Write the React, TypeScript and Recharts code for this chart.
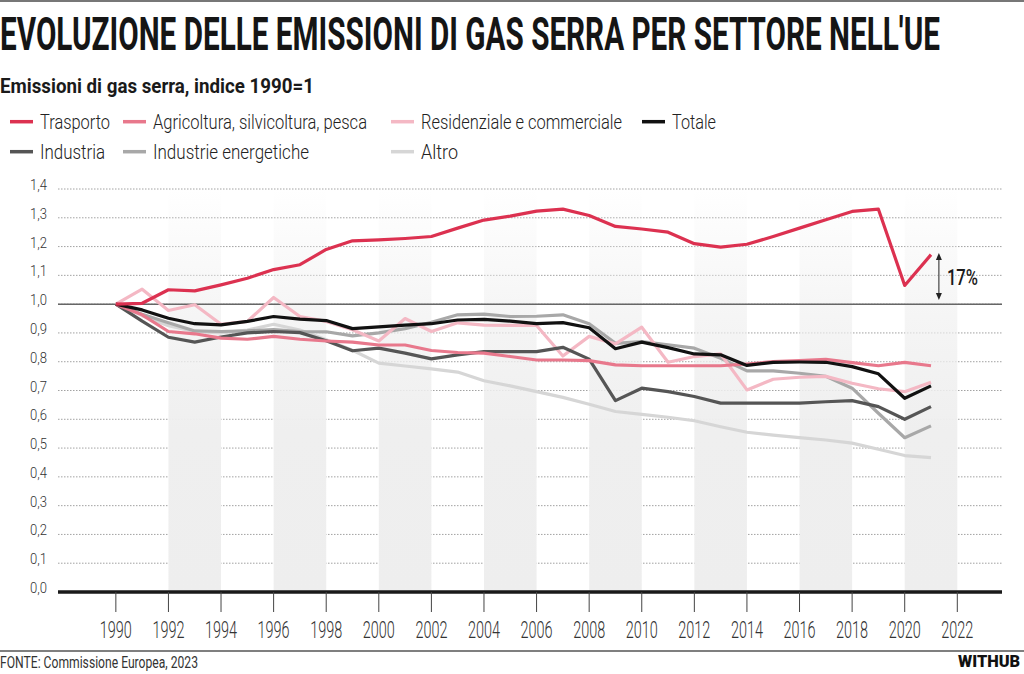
import React, { useLayoutEffect, useRef, useState } from 'react'
import {
  CartesianGrid,
  Legend,
  Line,
  LineChart,
  ReferenceArea,
  ReferenceLine,
  XAxis,
  YAxis,
} from 'recharts'

// anni e indici (1990 = 1)
const YEARS = [
  1990, 1991, 1992, 1993, 1994, 1995, 1996, 1997, 1998, 1999, 2000, 2001, 2002, 2003, 2004, 2005,
  2006, 2007, 2008, 2009, 2010, 2011, 2012, 2013, 2014, 2015, 2016, 2017, 2018, 2019, 2020, 2021,
]

const TRASPORTO = [
  1.0, 1.003, 1.05, 1.046, 1.067, 1.09, 1.12, 1.137, 1.19, 1.22, 1.223, 1.228, 1.235, 1.264, 1.292, 1.306,
  1.323, 1.33, 1.308, 1.27, 1.261, 1.25, 1.21, 1.198, 1.208, 1.235, 1.264, 1.293, 1.322, 1.33, 1.065, 1.172,
]
const AGRICOLTURA = [
  1.0, 0.963, 0.905, 0.897, 0.882, 0.878, 0.888, 0.878, 0.872, 0.868, 0.858, 0.858, 0.839, 0.832, 0.83, 0.818,
  0.806, 0.806, 0.804, 0.789, 0.786, 0.786, 0.786, 0.786, 0.792, 0.8, 0.804, 0.808, 0.797, 0.786, 0.798, 0.786,
]
const RESIDENZIALE = [
  1.0, 1.052, 0.978, 0.998, 0.93, 0.94, 1.023, 0.957, 0.94, 0.911, 0.872, 0.95, 0.905, 0.935, 0.927, 0.926,
  0.926, 0.82, 0.888, 0.862, 0.92, 0.798, 0.818, 0.827, 0.702, 0.739, 0.746, 0.749, 0.725, 0.706, 0.696, 0.729,
]
const TOTALE = [
  1.0, 0.98, 0.951, 0.932, 0.928, 0.94, 0.957, 0.948, 0.943, 0.915, 0.921, 0.927, 0.932, 0.945, 0.947, 0.941,
  0.932, 0.936, 0.918, 0.845, 0.868, 0.849, 0.827, 0.824, 0.787, 0.798, 0.799, 0.798, 0.783, 0.758, 0.673, 0.716,
]
const INDUSTRIA = [
  1.0, 0.941, 0.885, 0.868, 0.886, 0.9, 0.905, 0.901, 0.873, 0.838, 0.847, 0.83, 0.81, 0.824, 0.835, 0.835,
  0.835, 0.85, 0.809, 0.665, 0.708, 0.696, 0.679, 0.656, 0.656, 0.656, 0.656, 0.661, 0.665, 0.644, 0.6, 0.644,
]
const ENERGETICHE = [
  1.0, 0.965, 0.935, 0.907, 0.905, 0.907, 0.912, 0.905, 0.904, 0.89, 0.9, 0.915, 0.937, 0.963, 0.965, 0.957,
  0.958, 0.963, 0.932, 0.864, 0.87, 0.859, 0.847, 0.812, 0.768, 0.768, 0.76, 0.749, 0.708, 0.621, 0.536, 0.577,
]
const ALTRO = [
  1.0, 0.96, 0.925, 0.905, 0.9, 0.91, 0.93, 0.91, 0.876, 0.84, 0.795, 0.785, 0.775, 0.764, 0.734, 0.716,
  0.696, 0.676, 0.652, 0.627, 0.617, 0.607, 0.595, 0.574, 0.555, 0.545, 0.536, 0.528, 0.517, 0.496, 0.474, 0.467,
]

const X_TICKS = [1990, 1992, 1994, 1996, 1998, 2000, 2002, 2004, 2006, 2008, 2010, 2012, 2014, 2016, 2018, 2020, 2022]
const Y_TICKS = [0, 0.1, 0.2, 0.3, 0.4, 0.5, 0.6, 0.7, 0.8, 0.9, 1.0, 1.1, 1.2, 1.3, 1.4]
// bande grigie: inizio di ogni fascia di due anni
const BANDS = [1992, 1996, 2000, 2004, 2008, 2012, 2016, 2020]

const SERIES = [
  { key: 'altro', name: 'Altro', color: '#d6d6d6', values: ALTRO },
  { key: 'energetiche', name: 'Industrie energetiche', color: '#a8a8a8', values: ENERGETICHE },
  { key: 'residenziale', name: 'Residenziale e commerciale', color: '#f4b8c4', values: RESIDENZIALE },
  { key: 'industria', name: 'Industria', color: '#555555', values: INDUSTRIA },
  { key: 'agricoltura', name: 'Agricoltura, silvicoltura, pesca', color: '#e8788c', values: AGRICOLTURA },
  { key: 'totale', name: 'Totale', color: '#111111', values: TOTALE },
  { key: 'trasporto', name: 'Trasporto', color: '#dc3150', values: TRASPORTO },
]

const data = YEARS.map((year, i) => {
  const row: Record<string, number> = { year }
  SERIES.forEach((s) => { row[s.key] = s.values[i] })
  return row
})

const FONT = 'Roboto, "DejaVu Sans", sans-serif'

// posizione delle voci di legenda (colonna x, riga, larghezza testo)
const LEGEND_LAYOUT: Record<string, { x: number; row: number; w: number }> = {
  Trasporto: { x: 10, row: 0, w: 70 },
  'Agricoltura, silvicoltura, pesca': { x: 123, row: 0, w: 214 },
  'Residenziale e commerciale': { x: 391, row: 0, w: 201 },
  Totale: { x: 642, row: 0, w: 44 },
  Industria: { x: 10, row: 1, w: 65 },
  'Industrie energetiche': { x: 123, row: 1, w: 156 },
  Altro: { x: 391, row: 1, w: 37 },
}

// testo stretto: misura la larghezza naturale e comprime in orizzontale
function FitText({ x, y, width, children, ...rest }: any) {
  const ref = useRef<SVGTextElement>(null)
  const [sx, setSx] = useState(0.64)
  useLayoutEffect(() => {
    if (!ref.current) return
    const w = ref.current.getComputedTextLength()
    if (w > 0) setSx(width / w)
  }, [width])
  return (
    <text ref={ref} x={0} y={0} transform={`translate(${x},${y}) scale(${sx},1)`} {...rest}>
      {children}
    </text>
  )
}

function LegendContent({ payload }: any) {
  return (
    <svg width={1024} height={70} style={{ display: 'block' }}>
      {(payload || []).map((p: any) => {
        const pos = LEGEND_LAYOUT[p.value]
        if (!pos) return null
        const cy = 21.7 + pos.row * 30
        return (
          <g key={p.value}>
            <line x1={pos.x} x2={pos.x + 23} y1={cy} y2={cy} stroke={p.color} strokeWidth={3.5} />
            <text
              x={pos.x + 30}
              y={cy + 7.6}
              fontFamily={FONT}
              fontSize={21}
              fontWeight={300}
              fill="#222"
              textLength={pos.w}
              lengthAdjust="spacingAndGlyphs"
            >
              {p.value}
            </text>
          </g>
        )
      })}
    </svg>
  )
}

function XTick({ x, y, payload }: any) {
  return (
    <text
      x={x}
      y={y}
      dy={24}
      textAnchor="middle"
      fontFamily={FONT}
      fontSize={24.5}
      fontWeight={300}
      fill="#333"
      textLength={32}
      lengthAdjust="spacingAndGlyphs"
    >
      {payload.value}
    </text>
  )
}

function YTick({ y, payload }: any) {
  return (
    <text
      x={47}
      y={y}
      dy={1}
      textAnchor="end"
      fontFamily={FONT}
      fontSize={15.5}
      fontWeight={300}
      fill="#333"
      textLength={17}
      lengthAdjust="spacingAndGlyphs"
    >
      {payload.value.toFixed(1).replace('.', ',')}
    </text>
  )
}

function ArrowShape(props: any) {
  const { x1, y1, x2, y2 } = props
  const top = Math.min(y1, y2)
  const bottom = Math.max(y1, y2)
  const x = x1 ?? x2
  return (
    <g>
      <line x1={x} x2={x} y1={top + 3} y2={bottom - 3} stroke="#222" strokeWidth={1} />
      <polygon points={`${x},${top} ${x - 3},${top + 7} ${x + 3},${top + 7}`} fill="#222" />
      <polygon points={`${x},${bottom} ${x - 3},${bottom - 7} ${x + 3},${bottom - 7}`} fill="#222" />
      <text
        x={x + 8}
        y={(top + bottom) / 2 + 8}
        fontFamily={FONT}
        fontSize={22}
        fontWeight={500}
        fill="#1a1a1a"
        textLength={31}
        lengthAdjust="spacingAndGlyphs"
      >
        17%
      </text>
    </g>
  )
}

export default function App() {
  return (
    <div style={{ position: 'absolute', left: 0, top: 0, width: 1024, height: 674, background: '#fff' }}>
      <LineChart
        width={1024}
        height={674}
        data={data}
        margin={{ top: 189, right: 22, bottom: 42, left: 0 }}
      >
        <defs>
          <linearGradient id="bandFade" x1="0" y1="0" x2="0" y2="1">
            <stop offset="0%" stopColor="#efefef" stopOpacity={0} />
            <stop offset="30%" stopColor="#efefef" stopOpacity={0.6} />
            <stop offset="60%" stopColor="#efefef" stopOpacity={1} />
            <stop offset="100%" stopColor="#eeeeee" stopOpacity={1} />
          </linearGradient>
        </defs>
        {BANDS.map((b) => (
          <ReferenceArea
            key={b}
            x1={b}
            x2={b + 2}
            y1={0}
            y2={1.4}
            fill="url(#bandFade)"
            fillOpacity={1}
            stroke="none"
            ifOverflow="visible"
          />
        ))}
        <CartesianGrid vertical={false} stroke="#8a8a8a" strokeDasharray="1.5 1.5" strokeWidth={0.8} />
        <XAxis
          dataKey="year"
          type="number"
          domain={[1987.8, 2023.7]}
          ticks={X_TICKS}
          allowDataOverflow
          height={40}
          tickSize={20}
          tickMargin={2}
          axisLine={{ stroke: '#1a1a1a', strokeWidth: 3.3 }}
          tickLine={{ stroke: '#444', strokeWidth: 1 }}
          tick={<XTick />}
        />
        <YAxis
          type="number"
          domain={[0, 1.4]}
          ticks={Y_TICKS}
          width={58}
          axisLine={false}
          tickLine={false}
          tick={<YTick />}
        />
        <ReferenceLine y={1} stroke="#666" strokeWidth={1.5} />
        <ReferenceLine
          segment={[{ x: 2021.3, y: 1.178 }, { x: 2021.3, y: 1.014 }]}
          shape={<ArrowShape />}
          ifOverflow="visible"
        />
        {SERIES.map((s) => (
          <Line
            key={s.key}
            dataKey={s.key}
            name={s.name}
            stroke={s.color}
            strokeWidth={3.2}
            dot={false}
            type="linear"
            strokeLinejoin="round"
            isAnimationActive={false}
          />
        ))}
        <Legend
          layout="horizontal"
          verticalAlign="middle"
          align="center"
          content={<LegendContent />}
          wrapperStyle={{ position: 'absolute', top: 100, left: 0, width: 1024, height: 70 }}
        />
      </LineChart>
      <svg
        width={1024}
        height={674}
        style={{ position: 'absolute', left: 0, top: 0, pointerEvents: 'none' }}
      >
        <line x1={0} x2={1024} y1={1} y2={1} stroke="#777" strokeWidth={2} />
        <FitText x={0} y={50} width={940} fontFamily={FONT} fontSize={46} fontWeight={700} fill="#151515">
          EVOLUZIONE DELLE EMISSIONI DI GAS SERRA PER SETTORE NELL'UE
        </FitText>
        <text
          x={0}
          y={93}
          fontFamily={FONT}
          fontSize={21}
          fontWeight={700}
          fill="#1a1a1a"
          textLength={314}
          lengthAdjust="spacingAndGlyphs"
        >
          Emissioni di gas serra, indice 1990=1
        </text>
        <line x1={0} x2={1024} y1={651} y2={651} stroke="#555" strokeWidth={1.5} />
        <text
          x={0}
          y={668}
          fontFamily={FONT}
          fontSize={16}
          fontWeight={400}
          fill="#333"
          textLength={198}
          lengthAdjust="spacingAndGlyphs"
        >
          FONTE: Commissione Europea, 2023
        </text>
        <text
          x={958}
          y={667}
          fontFamily={FONT}
          fontSize={16}
          fontWeight={900}
          fill="#111"
          textLength={62}
          lengthAdjust="spacingAndGlyphs"
        >
          WITHUB
        </text>
      </svg>
    </div>
  )
}
